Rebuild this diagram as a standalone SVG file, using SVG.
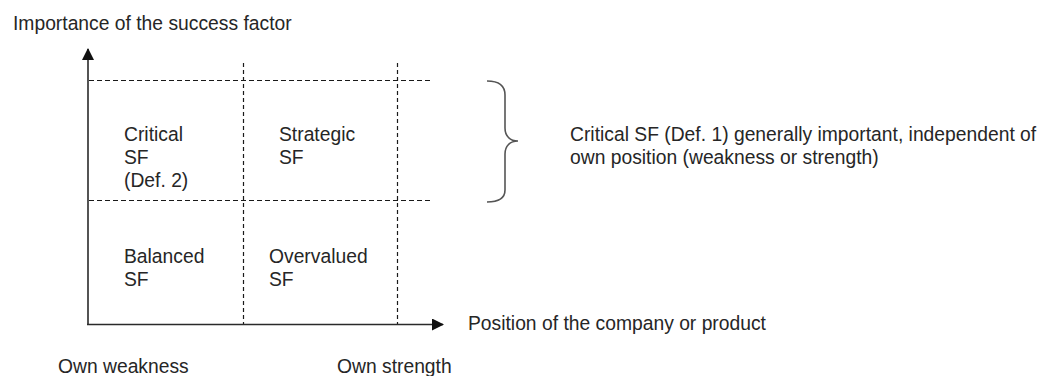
<svg xmlns="http://www.w3.org/2000/svg" width="1051" height="376" viewBox="0 0 1051 376">
  <style>
    text { font-family: "Liberation Sans", Arial, sans-serif; font-size: 19.3px; fill: #262626; }
    .grid { stroke: #1a1a1a; stroke-width: 1.2; fill: none; }
    .gh { stroke-dasharray: 5 3; }
    .gv { stroke-dasharray: 4 3; }
    .axis { stroke: #2a2a2a; stroke-width: 1.6; fill: none; }
    .brace { stroke: #555; stroke-width: 1.6; fill: none; }
  </style>
  <defs>
    <marker id="arrow" viewBox="0 0 12 12" refX="11" refY="6" markerWidth="12" markerHeight="12" markerUnits="userSpaceOnUse" orient="auto">
      <path d="M0,0 L12,6 L0,12 Z" fill="#111"/>
    </marker>
  </defs>
  <rect width="1051" height="376" fill="#fff"/>

  <!-- axis titles -->
  <g id="y-axis-label"><text x="13" y="30">Importance of the success factor</text></g>
  <g id="x-axis-label"><text x="468" y="330">Position of the company or product</text></g>
  <g id="weakness-label"><text x="58" y="373">Own weakness</text></g>
  <g id="strength-label"><text x="337" y="373">Own strength</text></g>

  <!-- axes and dashed grid -->
  <g id="connectors">
    <line class="axis" x1="88" y1="325" x2="88" y2="49" marker-end="url(#arrow)"/>
    <line class="axis" x1="87" y1="324.5" x2="443" y2="324.5" marker-end="url(#arrow)"/>
    <line class="grid gh" x1="89" y1="80.5" x2="433" y2="80.5"/>
    <line class="grid gh" x1="89" y1="200.5" x2="433" y2="200.5"/>
    <line class="grid gv" x1="243.5" y1="63" x2="243.5" y2="324"/>
    <line class="grid gv" x1="397.5" y1="63" x2="397.5" y2="324"/>
  </g>

  <!-- quadrants -->
  <g id="critical-sf">
    <text x="124" y="141">Critical</text>
    <text x="124" y="164">SF</text>
    <text x="124" y="187">(Def. 2)</text>
  </g>
  <g id="strategic-sf">
    <text x="279" y="141">Strategic</text>
    <text x="279" y="164">SF</text>
  </g>
  <g id="balanced-sf">
    <text x="124" y="263">Balanced</text>
    <text x="124" y="286">SF</text>
  </g>
  <g id="overvalued-sf">
    <text x="269" y="263">Overvalued</text>
    <text x="269" y="286">SF</text>
  </g>

  <!-- brace spanning the upper band -->
  <g id="brace">
    <path class="brace" d="M487,81 C497,81 505,84 505,95 L505,128 C505,136 510,141 518,141 C510,141 505,146 505,154 L505,190 C505,199 497,202 487,202"/>
  </g>
  <g id="critical-def1">
    <text x="570" y="141">Critical SF (Def. 1) generally important, independent of</text>
    <text x="570" y="164">own position (weakness or strength)</text>
  </g>
</svg>
